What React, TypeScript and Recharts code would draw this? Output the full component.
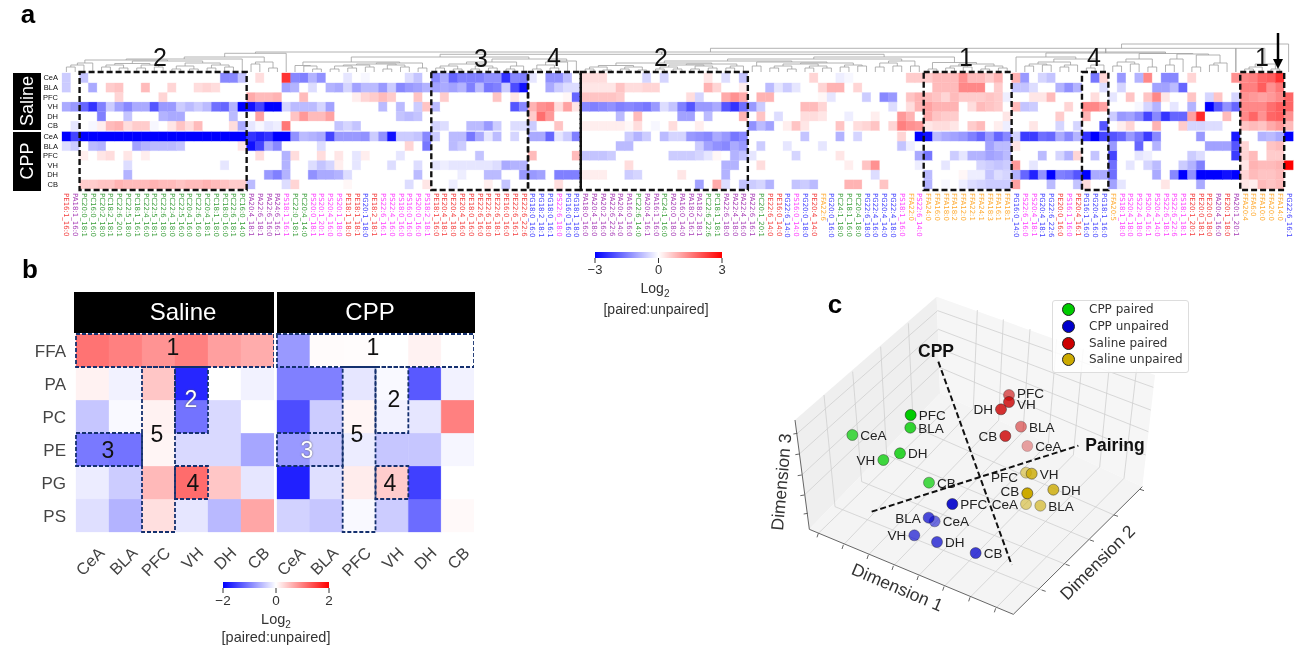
import {
  Bar,
  BarChart,
  Cell,
  ComposedChart,
  Line,
  LineChart,
  ReferenceArea,
  ReferenceLine,
  Scatter,
  ScatterChart,
  XAxis,
  YAxis,
} from "recharts";

const SANS = "'Liberation Sans', Arial, sans-serif";

// ---- panel a: lipid species, clustered order
const lipids = [
  "PE16:1_16:0","PA18:1_16:0","PC20:0_18:1","PC16:0_16:0","PC20:2_18:0","PC18:2_18:1","PC22:6_20:1","PC22:5_18:0","PC18:1_16:1","PC22:4_16:0",
  "PC22:5_18:1","PC22:6_18:0","PC22:4_18:0","PC22:5_16:0","PC20:4_16:0","PC22:6_16:0","PC20:4_18:1","PC18:1_18:0","PC18:0_16:0","PC22:6_18:1",
  "PC16:0_14:0","PA20:4_18:1","PA22:6_18:1","PA22:6_16:0","PA24:6_16:1","PS18:1_16:1","PC22:0_18:1","PC20:4_14:0","PS20:0_18:1","PS20:1_20:1",
  "PS20:4_16:0","PS20:1_18:0","PE18:1_18:0","PE18:1_18:1","PG20:1_18:0","PE18:2_18:1","PS22:6_16:1","PS22:4_16:0","PS18:0_16:0","PS16:0_16:0",
  "PS20:0_16:0","PS18:2_18:1","PE18:1_16:0","PE20:4_18:1","PE20:4_18:0","PE20:4_16:0","PE18:0_16:0","PE22:6_16:0","PE22:6_18:0","PE22:6_18:1",
  "PE16:0_16:0","PE22:6_16:1","PE22:6_22:6","PG18:0_16:0","PG18:2_18:1","PG18:0_16:1","PS22:6_18:0","PG16:0_16:0","PG18:1_18:0","PA18:0_16:0",
  "PA20:4_18:0","PA20:2_16:0","PA22:6_22:6","PA20:4_14:0","PA16:0_16:0","PC22:6_14:0","PA20:4_16:1","PA16:1_16:0","PC24:1_16:0","PA20:0_18:0",
  "PA16:0_14:0","PA18:0_16:1","PA18:2_18:1","PC22:6_22:6","PC18:1_18:1","PA22:6_18:0","PA22:4_18:0","PA22:4_16:0","PA22:6_16:1","PC20:1_20:1",
  "PE22:6_14:0","PE16:0_14:0","PG22:6_14:0","PS16:0_14:0","PG20:0_18:0","PE20:4_14:0","FFA22:6","PG20:0_16:0","PC24:1_18:0","PC18:1_16:0",
  "PC20:4_18:0","PG22:6_18:0","PG22:4_16:0","PG20:4_14:0","PG22:4_18:0","PS18:1_16:0","FFA22:0","PS22:6_14:0","FFA24:0","FFA16:0",
  "FFA18:0","FFA18:2","FFA12:0","FFA22:1","FFA24:1","FFA18:3","FFA16:1","FFA18:1","PG16:0_14:0","PS22:6_16:0",
  "PS20:4_18:1","PG20:4_18:1","PG22:6_22:6","PE20:0_16:0","PS16:1_16:0","PE20:4_16:1","PG16:1_16:0","PG20:4_16:0","PG18:1_16:0","FFA20:5",
  "PS18:1_18:0","PS20:4_18:0","PS22:4_18:0","PS20:4_16:1","PS20:4_14:0","PS22:6_18:1","PS22:6_22:6","PS18:1_18:1","PE20:1_20:1","PE20:0_18:1",
  "PE20:0_18:0","PA20:4_16:0","PE20:1_18:0","PA20:1_20:1","FFA20:4","FFA6:0","FFA10:0","FFA20:0","FFA14:0","PG22:6_16:1",
];

// [lipid index, log2 ratio x 10]; anything not listed is 0
const salineCeA = [[0,-6],[2,-7],[18,-14],[19,-14],[20,-7],[22,4],[25,24],[26,-14],[27,-15],[28,-9],[29,-13],[32,-3],[34,-1],[39,-4],[40,-7],[42,-14],[43,-10],[44,-18],[45,-15],[46,-15],[47,-15],[48,-13],[49,-13],[50,-24],[51,-14],[52,-15],[53,-3],[55,-13],[56,-13],[57,-8],[59,4],[60,4],[61,4],[66,-5],[68,-5],[73,3],[75,-4],[77,-7],[85,5],[88,-2],[89,-1],[96,6],[97,6],[98,6],[99,8],[100,8],[101,8],[102,13],[103,8],[104,8],[105,6],[106,9],[108,9],[109,-12],[111,-5],[112,-7],[117,-16],[118,5],[120,-12],[122,-9],[123,14],[125,-14],[126,-14],[128,5],[133,13],[134,14],[135,15],[136,18],[137,19],[138,24]];
const salineBLA = [[0,-6],[3,-10],[5,6],[6,7],[9,8],[12,5],[15,4],[16,5],[17,4],[25,-11],[26,-9],[28,-4],[30,-9],[31,-10],[32,-5],[33,-11],[34,-8],[35,-8],[36,-12],[37,-6],[38,-14],[39,-12],[40,-11],[41,-9],[42,-11],[43,-10],[44,-11],[45,-9],[46,-15],[47,-8],[48,-16],[49,-15],[50,-6],[51,-21],[52,-28],[55,-10],[56,-6],[57,-4],[58,-4],[59,3],[60,3],[61,3],[62,3],[63,7],[64,4],[65,4],[66,5],[67,5],[73,9],[74,5],[77,2],[80,-8],[81,-3],[82,-6],[83,-3],[86,5],[87,9],[88,9],[90,5],[99,8],[100,8],[101,8],[102,14],[103,14],[104,14],[106,6],[108,-7],[109,-7],[110,-4],[113,-9],[114,-13],[115,-9],[118,-4],[120,-5],[124,-11],[125,-11],[126,-8],[127,-18],[134,15],[135,15],[136,19],[137,13],[138,16]];
const salinePFC = [[6,5],[11,5],[21,10],[22,8],[23,8],[24,9],[27,8],[33,2],[34,5],[35,6],[36,8],[37,6],[40,7],[43,6],[49,7],[51,3],[57,1],[58,-18],[59,7],[60,7],[61,7],[62,7],[63,6],[71,4],[72,-5],[75,10],[76,13],[77,10],[79,9],[80,9],[86,1],[87,-3],[91,-6],[93,-14],[94,-12],[96,7],[97,9],[98,8],[99,7],[100,5],[101,8],[102,6],[103,6],[104,6],[105,7],[106,6],[107,-2],[110,3],[111,3],[112,8],[117,4],[119,-3],[121,7],[123,7],[124,14],[125,3],[128,7],[130,-5],[131,7],[133,-5],[134,13],[135,12],[136,11],[137,12],[138,14],[139,18]];
const salineVH = [[0,-10],[1,-12],[2,-18],[3,-24],[4,-15],[5,-6],[6,-11],[7,-14],[8,-10],[9,-10],[10,-20],[11,-12],[12,-12],[13,-6],[14,-8],[15,-6],[16,-8],[17,-17],[18,-18],[19,-9],[20,-30],[21,-28],[22,-22],[23,-30],[24,-30],[25,-5],[26,-8],[27,-8],[28,-8],[29,-5],[30,-11],[36,-8],[38,-8],[40,-6],[41,7],[42,-8],[51,-20],[52,-14],[53,9],[54,13],[55,14],[56,4],[57,11],[58,3],[59,-14],[60,-15],[61,-14],[62,-13],[63,-15],[64,-14],[65,-15],[66,-16],[67,-12],[68,-4],[69,-7],[70,-15],[71,-20],[72,-12],[73,-12],[74,-10],[75,-20],[76,-24],[77,-17],[78,-12],[79,-6],[84,8],[85,8],[86,5],[94,-4],[96,4],[97,9],[98,11],[99,9],[100,9],[101,9],[103,4],[104,8],[105,7],[106,6],[108,8],[109,-7],[110,-6],[114,5],[116,14],[117,14],[118,11],[122,-1],[123,-5],[124,-9],[126,-3],[128,-9],[130,-30],[131,-20],[132,-13],[133,-18],[134,14],[135,14],[136,14],[137,17],[138,19],[139,18]];
const salineDH = [[4,-15],[7,-7],[11,-9],[12,-10],[13,-10],[19,-8],[22,11],[26,7],[27,12],[28,8],[29,8],[30,11],[38,-7],[39,-8],[40,-7],[53,6],[54,17],[55,12],[63,-8],[65,8],[70,-11],[71,-11],[73,-8],[77,9],[79,7],[81,-4],[84,4],[85,4],[86,3],[89,-2],[92,2],[95,12],[96,9],[98,10],[99,7],[100,6],[101,6],[107,3],[113,6],[116,9],[119,-6],[120,-12],[121,-11],[122,-14],[123,-22],[124,-14],[125,-24],[126,-18],[127,-18],[128,11],[129,25],[132,8],[134,14],[135,18],[136,13],[137,18],[138,19],[139,13]];
const salineCB = [[1,-3],[3,-1],[4,2],[5,8],[6,9],[7,4],[8,6],[9,6],[10,-1],[12,3],[13,7],[14,4],[15,8],[19,4],[20,-10],[21,-3],[22,-1],[23,-3],[24,-2],[25,16],[31,-7],[32,-5],[33,-7],[42,-5],[43,-4],[46,-8],[47,-8],[48,-12],[49,-6],[51,-4],[52,-4],[53,-6],[56,7],[59,2],[60,2],[61,2],[62,2],[63,2],[64,1],[65,4],[67,-1],[69,4],[72,2],[78,-13],[79,-8],[80,-11],[82,2],[83,7],[84,3],[88,7],[90,4],[91,5],[92,7],[94,5],[95,15],[96,13],[97,12],[98,3],[99,4],[100,4],[101,3],[103,6],[104,8],[106,2],[107,-2],[110,3],[113,-5],[115,-5],[118,-20],[120,2],[121,5],[124,9],[127,6],[128,-5],[129,-5],[130,-4],[131,-4],[134,7],[135,8],[136,7],[137,10],[138,12],[139,8]];
const cppCeA = [[0,-30],[1,-22],[2,-30],[3,-30],[4,-30],[5,-30],[6,-30],[7,-30],[8,-30],[9,-30],[10,-30],[11,-30],[12,-30],[13,-30],[14,-30],[15,-30],[16,-30],[17,-30],[18,-30],[19,-30],[20,-30],[21,-24],[22,-26],[23,-24],[24,-30],[25,-30],[26,-13],[27,-8],[28,-9],[29,-10],[30,-22],[31,-12],[32,-12],[33,-12],[34,-13],[35,-6],[36,-13],[37,-28],[38,-6],[39,-6],[40,-7],[41,-14],[42,-6],[44,-8],[45,-8],[46,-16],[47,-10],[48,-3],[49,-8],[51,-5],[53,-10],[54,-10],[55,-18],[56,-3],[57,-6],[58,-15],[64,-6],[65,-9],[66,-6],[68,-8],[69,-5],[70,-5],[71,-12],[72,-13],[73,-14],[74,-10],[75,-12],[76,-16],[77,-14],[84,-7],[88,-9],[90,-5],[95,5],[97,-30],[98,-28],[99,-8],[100,-10],[101,-11],[102,-12],[103,-15],[104,-18],[105,-12],[106,-18],[107,-14],[108,-5],[109,-23],[110,-23],[111,-17],[112,-18],[113,-10],[114,-14],[115,-9],[116,-24],[117,-30],[118,-22],[119,-20],[120,-18],[121,-12],[122,-16],[123,-23],[124,-14],[129,-12],[133,-27],[136,-9],[137,-8],[138,-10],[139,-30]];
const cppBLA = [[0,-4],[1,-6],[3,-8],[4,-9],[8,-11],[9,-9],[10,-8],[11,-8],[12,-8],[13,-7],[20,3],[21,-28],[22,-22],[23,-10],[24,-14],[29,-4],[39,5],[41,-16],[44,-8],[45,-6],[63,-8],[64,-8],[72,-6],[73,-11],[74,-13],[75,-14],[76,-10],[77,-12],[79,-6],[82,-3],[86,-3],[95,-7],[96,-2],[105,-11],[106,-8],[107,-8],[108,3],[119,-12],[122,-18],[124,-9],[130,-11],[131,-11],[132,-11],[133,-20],[134,5],[137,7],[138,8]];
const cppPFC = [[2,2],[4,3],[5,4],[7,3],[9,2],[22,4],[25,-9],[26,4],[29,4],[31,3],[33,-3],[34,2],[38,-3],[47,-7],[53,8],[58,8],[59,-7],[60,-7],[61,-7],[62,-6],[69,-6],[70,-6],[71,-6],[72,-5],[73,-3],[74,1],[76,-9],[77,-7],[78,-3],[83,-5],[88,3],[97,-10],[98,-16],[101,-6],[102,-3],[103,-9],[104,-9],[105,-11],[106,-10],[107,-8],[111,-8],[113,-5],[114,-9],[115,5],[117,-7],[119,-22],[122,-3],[123,-2],[128,-6],[129,-4],[133,-23],[134,5],[135,8],[137,6],[138,6]];
const cppVH = [[7,-4],[18,-3],[25,-9],[28,-4],[29,-7],[30,-5],[31,2],[33,-3],[37,-4],[40,-4],[42,-3],[43,-2],[44,-3],[45,-3],[46,-3],[47,-3],[48,-3],[49,-4],[50,-10],[51,-9],[52,-9],[64,4],[75,-9],[76,-9],[79,4],[89,2],[91,7],[92,13],[97,-2],[100,-3],[104,-5],[105,-6],[106,-7],[107,-6],[108,12],[110,-3],[119,-17],[121,-3],[123,-5],[124,-8],[127,-6],[128,-9],[129,-15],[134,3],[135,9],[136,8],[137,8],[138,9],[139,30]];
const cppDH = [[7,-9],[23,-12],[24,-15],[25,-9],[28,-13],[29,-10],[30,-10],[31,-9],[32,-4],[40,-8],[45,-2],[48,-8],[49,-8],[52,-12],[53,-12],[54,-11],[56,-15],[57,-15],[58,-15],[59,2],[60,2],[61,2],[64,-6],[65,-5],[70,3],[75,-9],[92,-4],[98,-8],[102,1],[103,-2],[104,-2],[105,-7],[106,-4],[107,-5],[108,-9],[109,-18],[110,-26],[111,-13],[112,-30],[113,-15],[114,-16],[115,-20],[116,-30],[117,-10],[118,-10],[119,-17],[124,-10],[126,-14],[127,-30],[128,-13],[129,-30],[130,-30],[131,-30],[132,-28],[133,-30],[134,5],[135,8],[136,7],[137,7],[138,8]];
const cppCB = [[2,6],[3,6],[4,7],[5,7],[6,9],[7,8],[8,8],[9,8],[10,9],[11,8],[12,8],[13,7],[14,8],[15,8],[16,9],[17,8],[18,7],[19,6],[20,6],[21,-8],[25,-4],[26,5],[32,1],[39,-4],[41,3],[44,-2],[48,2],[50,-7],[56,4],[72,-11],[74,10],[75,-4],[77,-7],[78,-6],[79,-5],[80,-9],[83,-7],[84,-6],[85,-8],[89,9],[90,9],[93,7],[98,-9],[100,-1],[102,-2],[103,-4],[104,-5],[105,-6],[106,-6],[107,-6],[108,11],[112,-8],[115,-7],[116,4],[119,-11],[120,-3],[125,3],[129,-10],[134,3],[135,2],[136,8],[137,7],[138,8]];

const regions = ["CeA", "BLA", "PFC", "VH", "DH", "CB"];
// stacked from the bottom of the heatmap upward
const lipidRows = [cppCB, cppDH, cppVH, cppPFC, cppBLA, cppCeA, null, salineCB, salineDH, salineVH, salinePFC, salineBLA, salineCeA];
const lipidRowTicks = [0.5, 1.5, 2.5, 3.5, 4.5, 5.5, 6.6, 7.6, 8.6, 9.6, 10.6, 11.6];
const lipidRowLabels = ["CB", "DH", "VH", "PFC", "BLA", "CeA", "CB", "DH", "VH", "PFC", "BLA", "CeA"];
// first and last lipid of each dashed cluster
const lipidBoxes = [[2, 20], [42, 52], [53, 58], [59, 77], [98, 107], [116, 118], [134, 138]];

// [left, right, top, left base, right base] in lipid index / px above the heatmap
const dendrogram = [
  [0,1,5,0,0],[0.5,2,7,5,0],[1.25,3,9,7,0],[4,5,5,0,0],[6,7,4,0,0],[8,9,4,0,0],[10,11,5,0,0],[12,13,3,0,0],[14,15,3,0,0],[16,17,4,0,0],[18,19,5,0,0],
  [4.5,6.5,7,5,4],[8.5,10.5,7,4,5],[12.5,14.5,6,3,3],[16.5,18.5,7,4,5],[5.5,9.5,8.5,7,7],[13.5,17.5,9,6,7],[7.5,15.5,11,8.5,9],[2.1,11.5,12,9,11],[6.8,20,13,12,0],
  [21,22,8,0,0],[23,24,4,0,0],[21.5,23.5,10,8,4],[13.4,22.5,15,13,10],[18,25,18.7,15,0],
  [28,29,3,0,0],[27,28.5,6,0,3],[26,27.75,6.5,0,6],[30,31,3,0,0],[32,33,4,0,0],[34,35,5,0,0],[36,37,3,0,0],[38,39,5,0,0],[40,41,4,0,0],
  [30.5,32.5,6,3,4],[31.5,34.5,7,6,5],[36.5,38.5,7,3,5],[33,37.5,8,7,7],[35.25,40.5,9,8,4],[26.9,37.9,10,6.5,9],
  [42,43,4,0,0],[44,45,3,0,0],[46,47,3,0,0],[48,49,4,0,0],[50,51,3,0,0],[42.5,44.5,6,4,3],[46.5,48.5,6,3,4],[50.5,52,6,3,0],[45.5,51.2,10,8,6],[43.5,47.5,8,6,6],
  [53,54,3,0,0],[55,56,4,0,0],[53.5,55.5,7,3,4],[54.5,57,10,7,0],[55.8,58,11,10,0],[48.4,56.9,13,10,11],[32.4,52.6,15,10,13],
  [59,60,3,0,0],[61,62,2,0,0],[63,64,3,0,0],[65,66,2,0,0],[67,68,3,0,0],[69,70,3,0,0],[71,72,3,0,0],[73,74,4,0,0],[75,76,4,0,0],
  [59.5,61.5,5,3,2],[63.5,65.5,5,3,2],[67.5,69.5,5,3,3],[71.5,73.5,6,3,4],[75.5,77,6,4,0],[60.5,64.5,6.5,5,5],[68.5,72.5,7,5,6],[70.5,76.25,8,7,6],[62.5,73.4,9,6.5,8],
  [78,79,6,0,0],[80,81,4,0,0],[82,83,3,0,0],[84,85,4,0,0],[86,87,4,0,0],[88,89,5,0,0],[90,91,6,0,0],[80.5,82.5,6,4,3],[84.5,86.5,6,4,4],[88.5,90.5,7,5,6],[81.5,85.5,8,6,6],[83.5,89.5,9,8,7],[78.5,86.5,10,6,9],[68,82.5,11,9,10],
  [92,93,5,0,0],[94,95,6,0,0],[96,97,6,0,0],[92.5,94.5,9,5,6],[93.5,96.5,11,9,6],[75.2,95,13,11,11],
  [98,99,3,0,0],[100,101,4,0,0],[102,103,5,0,0],[104,105,3,0,0],[106,107,4,0,0],[100.5,102.5,6,4,5],[104.5,106.5,6,3,4],[101.5,105.5,8,6,6],[98.5,103.5,9.5,3,8],[85,101,15,13,9.5],
  [42.5,93,17.7,15,15],[67.7,67.7,20,17.7,17.7],
  [109,110,6,0,0],[111,112,7,0,0],[113,114,5,0,0],[109.5,111.5,8,6,7],[113.5,115,7,5,0],[110.5,114.2,10,8,7],[116,117,4,0,0],[116.5,118,7,4,0],[112.3,117.2,13,10,7],[108,114.8,15,0,13],
  [119,120,6,0,0],[121,122,8,0,0],[119.5,121.5,10,6,8],[123,124,5,0,0],[120.5,123.5,13,10,5],[125,126,7,0,0],[125.5,127,13,7,0],[128,129,5,0,0],[130,131,7,0,0],[130.5,132,9,7,0],[128.5,131.2,17,5,9],[126.3,129.9,18,13,17],[122,128.1,18.5,13,18],[111.4,125,19,15,18.5],
  [134,135,3,0,0],[134.5,136,5,3,0],[137,138,3,0,0],[135.2,137.5,8,5,3],
  [21.5,125,20,18.7,19],[118.2,118.2,23.7,19,19],[73.25,136.3,23.7,20,8],[133,133,23.7,0,0],[120,139,28,23.7,0],
];

// ---- panel b: lipid class by region, rows top to bottom
const lipidClasses = ["FFA", "PA", "PC", "PE", "PG", "PS"];
const salineByClass = [
  [1.1, 1.0, 0.85, 1.0, 0.75, 0.65],
  [0.1, -0.1, 0.45, -1.7, 0, -0.1],
  [-0.45, -0.05, 0.1, -1.1, -0.3, 0],
  [-1.05, -1.1, 0.08, -0.3, -0.3, -0.7],
  [-0.15, -0.4, 0.55, 1.15, 0.45, -0.2],
  [-0.25, -0.6, 0.25, -0.2, -0.55, 0.7],
];
const cppByClass = [
  [-0.8, 0.03, 0.02, 0, 0.1, 0],
  [-1.0, -1.0, -0.2, -0.05, -1.3, -0.1],
  [-1.4, -0.4, 0.08, -0.1, -0.2, 1.0],
  [-0.8, -0.45, -0.15, -0.45, -0.45, -0.07],
  [-1.75, -0.25, 0.15, 0.4, -1.5, 0],
  [-0.35, -0.45, -0.05, -0.4, -1.15, 0.05],
];
const classRowTicks = [0.5, 1.5, 2.5, 3.5, 4.5, 5.5];
const classBoxes = [
  ["CeA", "CB", 5, 6],
  ["PFC", "PFC", 0, 5],
  ["VH", "VH", 3, 5],
  ["CeA", "BLA", 2, 3],
  ["VH", "VH", 1, 2],
];

// ---- panel c: projected embedding
const embeddingSeries = [
  { name: "CPP paired", color: "#00cc00", x: [337, 511, 512, 430, 480, 567], y: [465, 443, 405, 540, 520, 608], alpha: [0.7, 0.8, 1, 0.75, 0.8, 0.7] },
  { name: "CPP unpaired", color: "#0000cc", x: [584, 566, 637, 523, 591, 707], y: [724, 713, 672, 766, 786, 819], alpha: [0.55, 0.7, 0.9, 0.65, 0.7, 0.75] },
  { name: "Saline paired", color: "#cc0000", x: [862, 843, 807, 807, 783, 796], y: [498, 440, 345, 366, 388, 468], alpha: [0.35, 0.5, 0.6, 0.8, 0.8, 0.8] },
  { name: "Saline unpaired", color: "#ccaa00", x: [858, 901, 858, 875, 940, 862], y: [672, 677, 578, 581, 629, 640], alpha: [0.5, 0.6, 0.5, 0.8, 0.8, 1] },
];
const labelsOnLeft = ["CPP paired VH", "CPP unpaired BLA", "CPP unpaired VH", "Saline paired DH", "Saline paired CB", "Saline unpaired CB", "Saline unpaired PFC", "Saline unpaired CeA"];
// labels that sit a little off their marker's line
const labelNudge: Record<string, number> = { "Saline paired PFC": -2, "Saline paired VH": 2, "Saline unpaired PFC": 4, "Saline unpaired CB": -2 };

const leftWall = [[165, 420], [590, 50], [600, 340], [208, 748]];
const backWall = [[590, 50], [1245, 285], [1207, 620], [600, 340]];
const floorPane = [[208, 748], [600, 340], [1207, 620], [820, 1003]];
const gridLines = [
  [285, 680, 905, 930], [365, 605, 977, 853], [440, 525, 1050, 780], [520, 440, 1122, 705],
  [235, 760, 632, 375], [310, 795, 700, 386], [385, 825, 776, 421], [460, 858, 849, 455], [535, 888, 925, 490], [612, 920, 1000, 525], [690, 952, 1079, 561], [767, 985, 1152, 595],
  [285, 680, 252, 345], [365, 605, 338, 275], [440, 525, 422, 200], [520, 440, 505, 130],
  [700, 386, 712, 90], [776, 421, 790, 118], [849, 455, 870, 147], [925, 490, 950, 177], [1000, 525, 1030, 206], [1079, 561, 1110, 236], [1152, 595, 1190, 265],
  [172, 460, 593, 92], [178, 522, 595, 148], [185, 585, 597, 205], [193, 645, 598, 262],
  [593, 92, 1240, 322], [595, 148, 1232, 390], [597, 205, 1225, 455], [598, 262, 1217, 525],
];
const axisEdges = [
  [165, 420, 208, 748], [208, 748, 820, 1003], [820, 1003, 1207, 620],
  [235, 760, 231, 772], [310, 795, 306, 807], [385, 825, 381, 837], [460, 858, 456, 870], [535, 888, 531, 900], [612, 920, 608, 932], [690, 952, 686, 964], [767, 985, 763, 997],
  [905, 930, 917, 934], [977, 853, 989, 857], [1050, 780, 1062, 784], [1122, 705, 1134, 709], [1200, 628, 1212, 632],
  [172, 460, 160, 462], [178, 522, 166, 524], [185, 585, 173, 587], [193, 645, 181, 647], [203, 700, 191, 702],
];
const dashedAxes = [[595, 245, 815, 855], [395, 695, 1015, 497]];

const bwr = (v: number, max: number) => {
  const t = Math.max(-1, Math.min(1, v / max));
  const c = Math.round(255 * (1 - Math.abs(t)));
  return t < 0 ? `rgb(${c},${c},255)` : `rgb(255,${c},${c})`;
};

const lipidColor = (name: string) => {
  if (name.startsWith("FFA")) return "#ffab33";
  if (name.startsWith("PE")) return "#f33c3c";
  if (name.startsWith("PA")) return "#a63cb5";
  if (name.startsWith("PC")) return "#3d9f3d";
  if (name.startsWith("PS")) return "#ff40ff";
  return "#4040ff";
};

const lipidTable = lipids.map((name, idx) => {
  const row: Record<string, number | string> = { idx, name, gap: 0.1 };
  lipidRows.forEach((cells, r) => {
    if (cells) {
      const hit = cells.find((c) => c[0] === idx);
      row[`r${r}`] = 1;
      row[`v${r}`] = hit ? hit[1] / 10 : 0;
    }
  });
  return row;
});

const LipidTick = ({ x, y, payload }: any) => (
  <text
    x={x}
    y={y - 2}
    transform={`rotate(90 ${x} ${y - 2})`}
    fontSize={7}
    fontFamily="'DejaVu Sans'"
    fill={lipidColor(lipids[payload.value])}
    dominantBaseline="central"
  >
    {lipids[payload.value]}
  </text>
);

const LipidHeatmap = () => (
  <BarChart
    width={1307}
    height={250}
    data={lipidTable}
    margin={{ top: 73, right: 14, bottom: 11, left: 30 }}
    barCategoryGap={0}
    style={{ position: "absolute", left: 0, top: 0 }}
  >
    <XAxis dataKey="idx" interval={0} tick={<LipidTick />} tickLine={false} axisLine={false} height={50} tickMargin={0} />
    <YAxis
      type="number"
      domain={[0, 12.1]}
      ticks={lipidRowTicks}
      tickFormatter={(v: number) => lipidRowLabels[lipidRowTicks.indexOf(v)]}
      width={32}
      interval={0}
      tickLine={false}
      tickSize={0}
      axisLine={false}
      tick={{ fontSize: 7.5, fill: "#111", fontFamily: SANS }}
      tickMargin={4}
    />
    {lipidRows.map((cells, r) =>
      cells ? (
        <Bar key={r} dataKey={`r${r}`} stackId="a" isAnimationActive={false}>
          {lipidTable.map((row, i) => {
            const color = bwr(row[`v${r}`] as number, 3);
            return <Cell key={i} fill={color} stroke={color} strokeWidth={0.3} />;
          })}
        </Bar>
      ) : (
        <Bar key={r} dataKey="gap" stackId="a" fill="#fff" isAnimationActive={false} />
      ),
    )}
    {lipidBoxes.map((b, i) => (
      <ReferenceArea
        key={i}
        x1={b[0]}
        x2={b[1]}
        y1={-0.1}
        y2={12.2}
        ifOverflow="visible"
        fill="none"
        stroke="#111"
        strokeWidth={2.4}
        strokeDasharray="6 3"
        zIndex={1000}
      />
    ))}
  </BarChart>
);

const Dendrogram = () => (
  <LineChart
    width={1307}
    height={72}
    margin={{ top: 32, right: 14, bottom: 0, left: 62 }}
    style={{ position: "absolute", left: 0, top: 0 }}
  >
    <XAxis hide type="number" dataKey="x" domain={[-0.5, 139.5]} allowDataOverflow />
    <YAxis hide type="number" domain={[0, 40]} width={0} />
    {dendrogram.map((m, i) => (
      <Line
        key={i}
        data={[
          { x: m[0], h: m[3] },
          { x: m[0], h: m[2] },
          { x: m[1], h: m[2] },
          { x: m[1], h: m[4] },
        ]}
        dataKey="h"
        type="linear"
        stroke="#a0a0a0"
        strokeWidth={0.8}
        dot={false}
        isAnimationActive={false}
      />
    ))}
  </LineChart>
);

const RegionTick = ({ x, y, payload }: any) => (
  <text
    x={x + 13}
    y={y + 14}
    transform={`rotate(-45 ${x + 13} ${y + 14})`}
    textAnchor="end"
    fontSize={16.5}
    fontFamily={SANS}
    fill="#444"
  >
    {payload.value}
  </text>
);

const ClassHeatmap = ({ values, left, width, showRows }: any) => {
  const data = regions.map((region, c) => {
    const row: Record<string, number | string> = { region };
    lipidClasses.forEach((k, r) => {
      row[k] = 1;
      row[`${k}v`] = values[r][c];
    });
    return row;
  });
  const bottomUp = [...lipidClasses].reverse();
  return (
    <BarChart
      width={width}
      height={270}
      data={data}
      margin={{ top: 10, right: 0, bottom: 12, left: showRows ? 6 : 100 }}
      barCategoryGap={0}
      style={{ position: "absolute", left, top: 324 }}
    >
      <XAxis dataKey="region" interval={0} tick={<RegionTick />} tickLine={false} axisLine={false} height={50} />
      <YAxis
        hide={!showRows}
        type="number"
        domain={[0, 6]}
        ticks={classRowTicks}
        tickFormatter={(v: number) => bottomUp[classRowTicks.indexOf(v)]}
        width={showRows ? 70 : 0}
        interval={0}
        tickLine={false}
        axisLine={false}
        tick={{ fontSize: 17, fill: "#444", fontFamily: SANS }}
        tickMargin={4}
      />
      {bottomUp.map((k) => (
        <Bar key={k} dataKey={k} stackId="a" isAnimationActive={false}>
          {data.map((row, i) => {
            const color = bwr(row[`${k}v`] as number, 2);
            return <Cell key={i} fill={color} stroke={color} strokeWidth={0.3} />;
          })}
        </Bar>
      ))}
      {classBoxes.map((b, i) => (
        <ReferenceArea
          key={i}
          x1={b[0]}
          x2={b[1]}
          y1={b[2]}
          y2={b[3]}
          ifOverflow="visible"
          fill="none"
          stroke="#14306e"
          strokeWidth={1.8}
          strokeDasharray="4 2"
          zIndex={1000}
        />
      ))}
    </BarChart>
  );
};

const Colorbar = ({ id, left, top, width, height, max, fontSize }: any) => {
  const ticks = [-max, 0, max];
  return (
    <ComposedChart
      width={width + 40}
      height={height + 28}
      data={ticks.map((v) => ({ v, y: 0 }))}
      margin={{ top: 0, right: 20, bottom: 0, left: 20 }}
      style={{ position: "absolute", left: left - 20, top }}
    >
      <defs>
        <linearGradient id={id} x1="0" x2="1" y1="0" y2="0">
          <stop offset="0%" stopColor="#0000ff" />
          <stop offset="50%" stopColor="#ffffff" />
          <stop offset="100%" stopColor="#ff0000" />
        </linearGradient>
      </defs>
      <XAxis
        type="number"
        dataKey="v"
        domain={[-max, max]}
        ticks={ticks}
        tickFormatter={(v: number) => (v < 0 ? `\u2212${-v}` : `${v}`)}
        axisLine={false}
        tickSize={5}
        tick={{ fontSize, fill: "#333", fontFamily: SANS }}
        tickLine={{ stroke: "#333" }}
        height={28}
      />
      <YAxis hide type="number" domain={[0, 1]} width={0} />
      <Line dataKey="y" stroke="none" dot={false} isAnimationActive={false} />
      <ReferenceArea x1={-max} x2={max} y1={0} y2={1} fill={`url(#${id})`} fillOpacity={1} stroke="none" />
    </ComposedChart>
  );
};

const polygonLine = (fill: string) => (props: any) => (
  <polygon points={props.points.map((p: any) => `${p.x},${p.y}`).join(" ")} fill={fill} stroke="none" />
);

const EmbeddingPoint = ({ cx, cy, payload }: any) => {
  const key = `${payload.series} ${payload.region}`;
  const onLeft = labelsOnLeft.includes(key);
  return (
    <g>
      <circle cx={cx} cy={cy} r={5.5} fill={payload.color} fillOpacity={payload.alpha} stroke="#222" strokeOpacity={payload.alpha * 0.8} strokeWidth={0.7} />
      <text
        x={cx + (onLeft ? -8 : 8)}
        y={cy + 5 + (labelNudge[key] ?? 0)}
        textAnchor={onLeft ? "end" : "start"}
        fontSize={13.5}
        fontFamily={SANS}
        fill="#222"
      >
        {payload.region}
      </text>
    </g>
  );
};

const Embedding = () => (
  <ScatterChart
    width={460}
    height={370}
    margin={{ top: 0, right: 0, bottom: 0, left: 0 }}
    style={{ position: "absolute", left: 740, top: 280 }}
  >
    <XAxis hide type="number" dataKey="x" domain={[0, 1380]} />
    <YAxis hide type="number" dataKey="y" domain={[0, 1110]} reversed width={0} />
    {[leftWall, backWall, floorPane].map((pane, i) => (
      <Scatter
        key={i}
        data={pane.map((p) => ({ x: p[0], y: p[1] }))}
        line={polygonLine(["#efefef", "#f6f6f6", "#f4f4f4"][i])}
        shape={() => <g />}
        isAnimationActive={false}
        zIndex={100}
      />
    ))}
    {gridLines.map((g, i) => (
      <ReferenceLine key={i} segment={[{ x: g[0], y: g[1] }, { x: g[2], y: g[3] }]} stroke="#cfcfcf" strokeWidth={0.8} zIndex={500} />
    ))}
    {axisEdges.map((g, i) => (
      <ReferenceLine key={i} segment={[{ x: g[0], y: g[1] }, { x: g[2], y: g[3] }]} stroke="#555" strokeWidth={0.9} zIndex={500} />
    ))}
    {embeddingSeries.map((s) => (
      <Scatter
        key={s.name}
        name={s.name}
        data={regions.map((region, i) => ({
          x: s.x[i],
          y: s.y[i],
          alpha: s.alpha[i],
          region,
          color: s.color,
          series: s.name,
        }))}
        shape={<EmbeddingPoint />}
        isAnimationActive={false}
        zIndex={800}
      />
    ))}
    {dashedAxes.map((g, i) => (
      <ReferenceLine key={i} segment={[{ x: g[0], y: g[1] }, { x: g[2], y: g[3] }]} stroke="#111" strokeWidth={2} strokeDasharray="6 3" zIndex={900} />
    ))}
  </ScatterChart>
);

const Note = ({ x, y, size = 14, color = "#111", weight = 400, rotate = 0, shadow, children }: any) => (
  <div
    style={{
      position: "absolute",
      left: x,
      top: y,
      transform: `translate(-50%, -50%) rotate(${rotate}deg)`,
      fontSize: size,
      color,
      fontWeight: weight,
      fontFamily: SANS,
      whiteSpace: "nowrap",
      lineHeight: 1,
      textShadow: shadow,
    }}
  >
    {children}
  </div>
);

const Block = ({ x, y, w, h }: any) => (
  <div style={{ position: "absolute", left: x, top: y, width: w, height: h, background: "#000" }} />
);

const clusterNumbers = [
  ["2", 160, 57], ["3", 481, 58], ["4", 554, 57], ["2", 661, 57], ["1", 966, 57], ["4", 1094, 57], ["1", 1262, 57],
];
const classNumbers = [
  ["1", 173, 347, "#111"], ["2", 191, 399, "#fff"], ["5", 157, 434, "#111"], ["3", 108, 450, "#111"], ["4", 193, 483, "#111"],
  ["1", 373, 347, "#111"], ["2", 394, 399, "#111"], ["5", 357, 434, "#111"], ["3", 307, 450, "#fff"], ["4", 390, 483, "#111"],
];
const legendRows = [309, 326, 343, 359];

export default function App() {
  return (
    <div style={{ position: "absolute", left: 0, top: 0, width: 1307, height: 652, background: "#fff", overflow: "hidden", filter: "blur(0.35px)" }}>
      <Dendrogram />
      <LipidHeatmap />
      <Block x={13} y={73} w={28} h={57} />
      <Block x={13} y={132} w={28} h={59} />
      <Note x={27} y={101} size={18} color="#fff" rotate={-90}>Saline</Note>
      <Note x={27} y={161} size={18} color="#fff" rotate={-90}>CPP</Note>
      {clusterNumbers.map((n, i) => (
        <Note key={i} x={n[1]} y={n[2]} size={25}>{n[0]}</Note>
      ))}
      <svg width={1307} height={80} style={{ position: "absolute", left: 0, top: 0 }}>
        <line x1={1278} y1={33} x2={1278} y2={60} stroke="#000" strokeWidth={2.5} />
        <polygon points="1273,59 1283,59 1278,69" fill="#000" />
      </svg>
      <Colorbar id="barA" left={595} top={252} width={127} height={6} max={3} fontSize={13} />
      <Note x={655} y={290} size={14} color="#333">Log<sub style={{ fontSize: 10 }}>2</sub></Note>
      <Note x={656} y={309} size={14} color="#333">[paired:unpaired]</Note>

      <Block x={74} y={292} w={200} h={41} />
      <Block x={277} y={292} w={198} h={41} />
      <Note x={183} y={312} size={24} color="#fff">Saline</Note>
      <Note x={370} y={312} size={24} color="#fff">CPP</Note>
      <ClassHeatmap values={salineByClass} left={0} width={274} showRows />
      <ClassHeatmap values={cppByClass} left={177} width={297} />
      {classNumbers.map((n, i) => (
        <Note key={i} x={n[1]} y={n[2]} size={23} color={n[3]} shadow={n[3] === "#fff" ? "0 0 2px #555" : undefined}>{n[0]}</Note>
      ))}
      <Colorbar id="barB" left={223} top={582} width={106} height={6} max={2} fontSize={13.5} />
      <Note x={276} y={621} size={14.5} color="#333">Log<sub style={{ fontSize: 10 }}>2</sub></Note>
      <Note x={276} y={637} size={14.5} color="#333">[paired:unpaired]</Note>

      <Embedding />
      <Note x={936} y={352} size={17.5} weight={700}>CPP</Note>
      <Note x={1115} y={446} size={17.5} weight={700}>Pairing</Note>
      <Note x={897} y={588} size={17.5} color="#333" rotate={23}>Dimension 1</Note>
      <Note x={1098} y={563} size={17.5} color="#333" rotate={-45}>Dimension 2</Note>
      <Note x={782} y={482} size={17.5} color="#333" rotate={-85}>Dimension 3</Note>
      <div style={{ position: "absolute", left: 1052, top: 300, width: 135, height: 71, background: "rgba(255,255,255,0.85)", border: "1px solid #ddd", borderRadius: 3 }} />
      {embeddingSeries.map((s, i) => (
        <div key={s.name}>
          <div
            style={{
              position: "absolute",
              left: 1062,
              top: legendRows[i] - 6,
              width: 11,
              height: 11,
              borderRadius: "50%",
              background: s.color,
              border: "0.7px solid #222",
            }}
          />
          <div
            style={{
              position: "absolute",
              left: 1089,
              top: legendRows[i] - 7,
              fontSize: 12,
              lineHeight: "14px",
              color: "#333",
              fontFamily: "'DejaVu Sans'",
              whiteSpace: "nowrap",
            }}
          >
            {s.name}
          </div>
        </div>
      ))}

      <Note x={28} y={14} size={26} weight={700} color="#000">a</Note>
      <Note x={30} y={269} size={26} weight={700} color="#000">b</Note>
      <Note x={835} y={304} size={26} weight={700} color="#000">c</Note>
    </div>
  );
}
